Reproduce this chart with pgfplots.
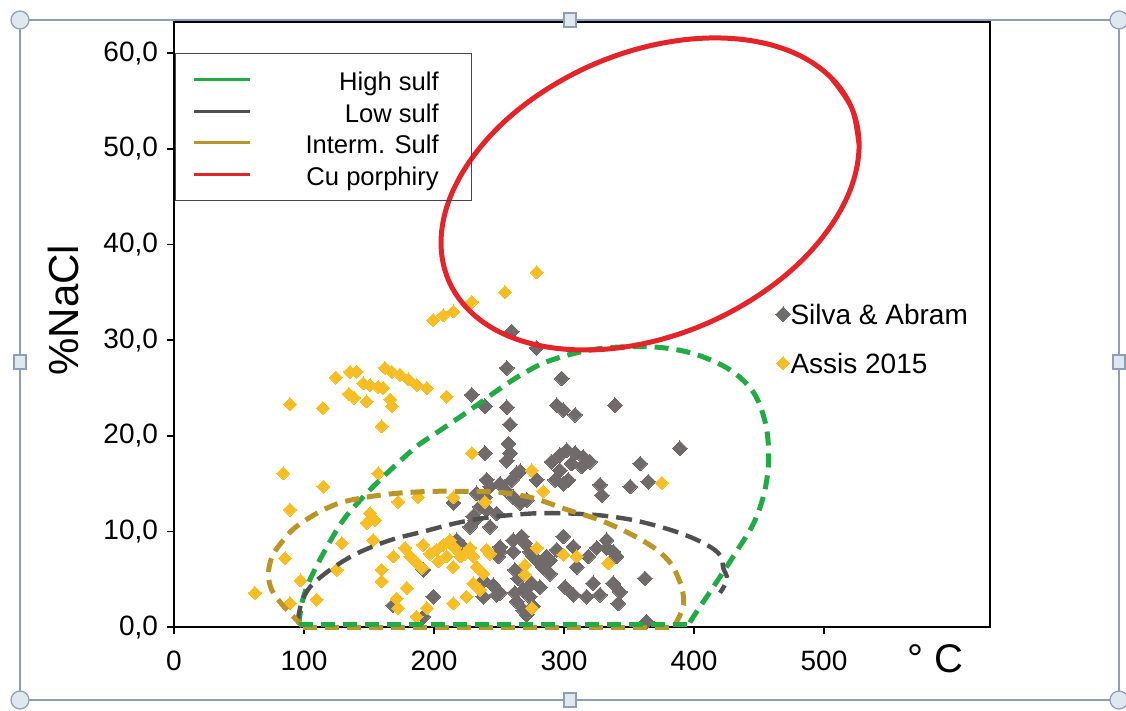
\documentclass[border=0pt]{standalone}
\usepackage{fontspec}
\setmainfont{Liberation Sans}
\usepackage{pgfplots}
\pgfplotsset{compat=1.18}
\definecolor{hsgreen}{RGB}{34,170,68}
\definecolor{lsgray}{RGB}{80,80,80}
\definecolor{isgold}{RGB}{186,150,40}
\definecolor{cured}{RGB}{228,36,40}
\definecolor{ptgray}{RGB}{112,106,106}
\definecolor{ptyellow}{RGB}{246,190,36}
\definecolor{frameblue}{RGB}{140,158,186}
\definecolor{handlefill}{RGB}{222,232,238}
\definecolor{legendgray}{RGB}{70,70,70}
\begin{document}
\begin{tikzpicture}
\useasboundingbox (-87pt,-41.85pt) rectangle (476pt,313.65pt);
\draw[frameblue, line width=0.8pt] (-77pt,-36.35pt) rectangle (472.5pt,303.65pt);
\pgfplotsset{common/.style={width=408pt,height=302.65pt,scale only axis,
  xmin=0,xmax=627.7,ymin=0,ymax=63.25,at={(0pt,0pt)},anchor=south west,clip=false}}
% ---------------- scatter axis ----------------
\begin{axis}[common,
  axis line style={black,line width=1pt},
  tick align=outside, tick pos=left,
  major tick length=3.5pt, tick style={black,line width=0.8pt},
  xtick={0,100,200,300,400,500}, ytick={0,10,20,30,40,50,60},
  ticklabel style={font=\fontsize{14}{16}\selectfont},
  xticklabel style={yshift=-5pt},
  /pgf/number format/assume math mode=true,
  yticklabel style={xshift=-1pt,/pgf/number format/fixed,/pgf/number format/fixed zerofill,
    /pgf/number format/precision=1,/pgf/number format/use comma},
  ylabel={\%NaCl},
  every axis y label/.style={at={(rel axis cs:-0.136,0.524)},rotate=90,anchor=center,
    font=\fontsize{21}{24}\selectfont},
  legend style={at={(rel axis cs:0.737,0.5344)},anchor=north west,draw=none,fill=none,
    font=\fontsize{14}{16}\selectfont,inner sep=0pt,row sep=14.5pt,
    nodes={inner sep=0pt,text height=10pt,text depth=0pt},
    /tikz/every even column/.append style={column sep=5.5pt}},
  legend cell align=left,
  legend image code/.code={\draw[#1] plot coordinates {(0pt,0pt)};},
]
\addplot[ptgray, only marks, mark=square*, mark size=2.6pt,
  mark options={rotate=45, draw=ptgray, fill=ptgray, line width=0pt}] coordinates {
(259.8,30.9) (279,29.2) (256,27.1) (298.2,26.0) (229,24.3) (239.2,23.1) (256,23.0)
(258.5,21.2) (294.4,23.2) (299.5,22.7) (308.5,22.2) (339.2,23.2) (257.2,19.2)
(258.5,18.2) (255.9,17.4) (239.2,18.2) (389.2,18.7)
(290.5,17.3) (296.9,18.0) (302.1,18.5) (308.5,18.2) (314.8,17.8) (320,17.3)
(313.6,16.8) (305.9,17.1) (296.9,16.4) (293.1,15.4) (299.5,15.0) (303.3,15.4)
(358.5,17.1) (364.8,15.2) (350.8,14.7) (327.7,14.9) (329,13.8) (266.2,16.3)
(259.8,15.4) (254.6,14.4) (261,13.6) (250.8,15.0) (240.5,15.4) (239.2,13.6)
(235.4,12.6) (214.9,13.0) (230.2,11.6) (248.2,11.9) (266.2,13.0) (261,9.1)
(267.5,9.5) (250.8,7.9) (261,7.9) (270,8.8) (273.8,7.9) (279,7.0) (286.7,7.4)
(299.5,9.5) (307.2,8.4) (318.7,7.4) (325.2,8.3) (332.8,8.3) (337.9,7.9)
(262.3,6.0) (264.8,5.1) (268.7,3.9) (262.3,3.6) (273.8,3.2) (275.2,4.6)
(250.8,3.6) (245.6,4.4) (237.9,3.2) (284.1,6.2) (289.2,5.6) (300.8,4.2)
(307.2,3.4) (317.5,3.2) (322.5,4.6) (327.7,3.4) (337.9,4.6) (343.1,3.7)
(341.8,2.5) (362.3,5.1) (363.6,0.6) (271.3,1.3) (276.4,2.2) (281.5,4.2)
(263.6,2.7) (268.7,1.8) (243.1,14.7) (232.8,14.0) (231.5,11.2) (227.7,10.5)
(240.5,12.3) (243.1,10.5) (222.5,8.4) (217.5,9.1) (250.8,8.4) (249.5,7.4)
(191.8,6.0) (199.5,3.2) (168.7,2.3) (191.8,1.1) (248.2,3.4) (237.9,4.9)
(276.4,7.4) (289.2,7.0) (294.4,8.1) (309.8,6.3) (332.8,9.1) (340.5,7.4)
(271.3,13.3) (279,15.4) (263.6,16.1)
};
\addlegendentry{Silva \& Abram}
\addplot[ptyellow, only marks, mark=square*, mark size=2.3pt,
  mark options={rotate=45, draw=ptyellow, fill=ptyellow, line width=0pt}] coordinates {
(62.3,3.6) (84.1,16.1) (89.2,23.3) (89.2,12.3) (85.4,7.2) (97.4,4.9) (89.2,2.5)
(114.4,22.9) (114.8,14.7) (109.8,2.9) (124.6,26.1) (135.4,26.7) (140.5,26.7)
(134.6,24.4) (138.5,24.0) (148.2,23.6) (145.6,25.5) (150.8,25.3) (157.2,25.1)
(161.0,25.0) (162.3,27.1) (167.5,26.7) (173.8,26.4) (180.3,25.9) (186.7,25.3)
(194.4,25.0) (166.2,23.8) (167.5,23.1) (159.7,21.0) (209.8,24.1) (129,8.8)
(125.1,6.0) (157.2,16.1) (150.8,11.9) (154.6,11.2) (148.2,10.9) (172.5,13.1)
(187.9,13.6) (153.3,9.1) (159.7,6.0) (159.7,4.8) (168.7,7.4) (179,4.1)
(171.3,3.0) (172.5,2.0) (186.7,1.1) (194.4,2.0) (214.9,2.5) (225.1,3.2)
(177.7,8.3) (181.8,7.4) (186.7,6.7) (190.5,6.2) (196.9,7.7) (202,8.1)
(207.2,8.6) (212.3,9.1) (216.2,8.3) (220.5,7.4) (223.8,7.7) (227.7,8.3)
(230.2,7.4) (232.8,6.3) (237.9,5.6) (240.5,8.1) (191.8,8.6) (203.3,6.9)
(209.8,7.4) (214.9,6.3) (229,18.2) (230.2,4.6) (214.9,13.6) (239.2,13.1)
(235.4,3.9) (243,7.7) (254.6,35.0) (275.2,16.4) (284.1,14.2) (375.2,15.1)
(279,8.3) (270,6.5) (270,5.5) (299.5,7.6) (309.8,7.4) (334.1,6.7) (275.2,2.0)
(279,37.1) (229,34.0) (214.9,33.0) (207.2,32.6) (199.5,32.1)
};
\addlegendentry{Assis 2015}
\end{axis}
% ---------------- curves axis ----------------
\begin{axis}[common, hide axis,
  legend style={at={(rel axis cs:0.0012,0.949)},anchor=north west,draw=legendgray,
    line width=0.6pt,fill=none,font=\fontsize{12.8}{15}\selectfont,
    inner xsep=8.5pt,inner ysep=7pt,row sep=3.6pt,
    nodes={inner sep=0pt,text height=11.5pt,text depth=0.7pt},
    /tikz/every even column/.append style={column sep=0pt}},
  legend cell align=right,
  legend image code/.code={\draw[#1,solid,line width=1.6pt] (0pt,0pt) -- (28pt,0pt);},
]
\addplot[hsgreen, line width=2.5pt, dash pattern=on 7pt off 4pt, smooth, tension=0.55] coordinates {
(96,0.3) (98.5,2.6) (104,4.8) (114.8,7.7) (130.2,11.2) (148.2,14.0) (166.2,16.4)
(186.7,18.9) (207.2,20.8) (227.7,22.7) (248.2,24.7) (266,26.3) (284.1,27.6)
(307.2,28.6) (332.8,29.2) (368.7,29.3) (399.5,28.6) (427.7,26.9) (446,24.5)
(455,21.3) (457.5,17.8) (454.5,14.3) (446,10.9) (430.2,7.4) (414.8,4.2)
(400,1.2) (396,0.3)
};
\addlegendentry{\makebox[101.5pt][r]{High sulf\hspace{8pt}}}
\addplot[lsgray, line width=2.2pt, dash pattern=on 8pt off 4pt, smooth, tension=0.55] coordinates {
(95,0.6) (98,2.5) (104.6,4.2) (120,6.0) (140.5,7.7) (166.2,9.1) (191.8,10.0)
(217.5,10.9) (243.1,11.5) (276.4,11.9) (302.1,11.9) (327.7,11.7) (353.3,11.2)
(379,10.3) (399.5,9.3) (414.8,8.2) (421,7.3) (422.5,6.2) (425.5,5.0) (420,3.6)
};
\addlegendentry{\makebox[101.5pt][r]{Low sulf\hspace{8pt}}}
\addplot[isgold, line width=2.5pt, dash pattern=on 7pt off 4pt, smooth, tension=0.55] coordinates {
(385,0.2) (389,1.2) (392,2.4) (390.5,4.2) (383,6.5) (371.3,8.1) (353.3,9.6)
(327.7,11.2) (302.1,12.3) (276.4,13.5) (250.8,14.1) (222.5,14.2) (196.9,14.2)
(171.3,14.0) (148.2,13.6) (127.7,13.0) (109.8,11.9) (93,10.4) (84.1,9.1)
(75.8,7.5) (72.6,5.6) (75.2,3.9) (83,2.4) (92,1.1) (99,0.1)
};
\addlegendentry{\makebox[101.5pt][r]{Interm. Sulf\hspace{8pt}}}
\addplot[cured, line width=2.5pt, smooth, tension=0.6] coordinates {
(527.0,50.38) (521.5,54.21) (505.4,57.44) (479.9,59.84) (446.6,61.24) (407.8,61.56)
(366.2,60.77) (324.6,58.93) (285.8,56.14) (252.5,52.63) (227.0,48.60) (210.9,44.37)
(205.4,40.18) (210.9,36.35) (227.0,33.12) (252.5,30.72) (285.8,29.32) (324.6,29.0)
(366.2,29.79) (407.8,31.63) (446.6,34.42) (479.9,37.93) (505.4,41.96) (521.5,46.19)
(527.0,50.38) (521.5,54.21) (505.4,57.44)
};
\addlegendentry{\makebox[101.5pt][r]{Cu porphiry\hspace{8pt}}}
% bottom segments of the closed outlines
\addplot[isgold, line width=2.5pt, dash pattern=on 7pt off 4pt, forget plot] coordinates {(99,0.0) (385,0.0)};
\addplot[hsgreen, line width=2.5pt, dash pattern=on 7pt off 4pt, forget plot] coordinates {(96,0.3) (396,0.3)};
\node[font=\fontsize{20}{24}\selectfont] at (rel axis cs:0.933,-0.052) {° C};
\end{axis}
% ---------------- picture frame handles ----------------
\foreach \p in {(-77pt,-36.35pt),(472.5pt,-36.35pt),(-77pt,303.65pt),(472.5pt,303.65pt)}
  \filldraw[draw=frameblue,fill=handlefill,line width=0.6pt] \p circle (4.5pt);
\foreach \p in {(198pt,-36.35pt),(198pt,303.65pt),(-77pt,132.65pt),(472.5pt,132.65pt)}
  \filldraw[draw=frameblue,fill=handlefill,line width=0.6pt] \p ++(-3pt,-3.5pt) rectangle ++(6pt,7pt);
\end{tikzpicture}
\end{document}
